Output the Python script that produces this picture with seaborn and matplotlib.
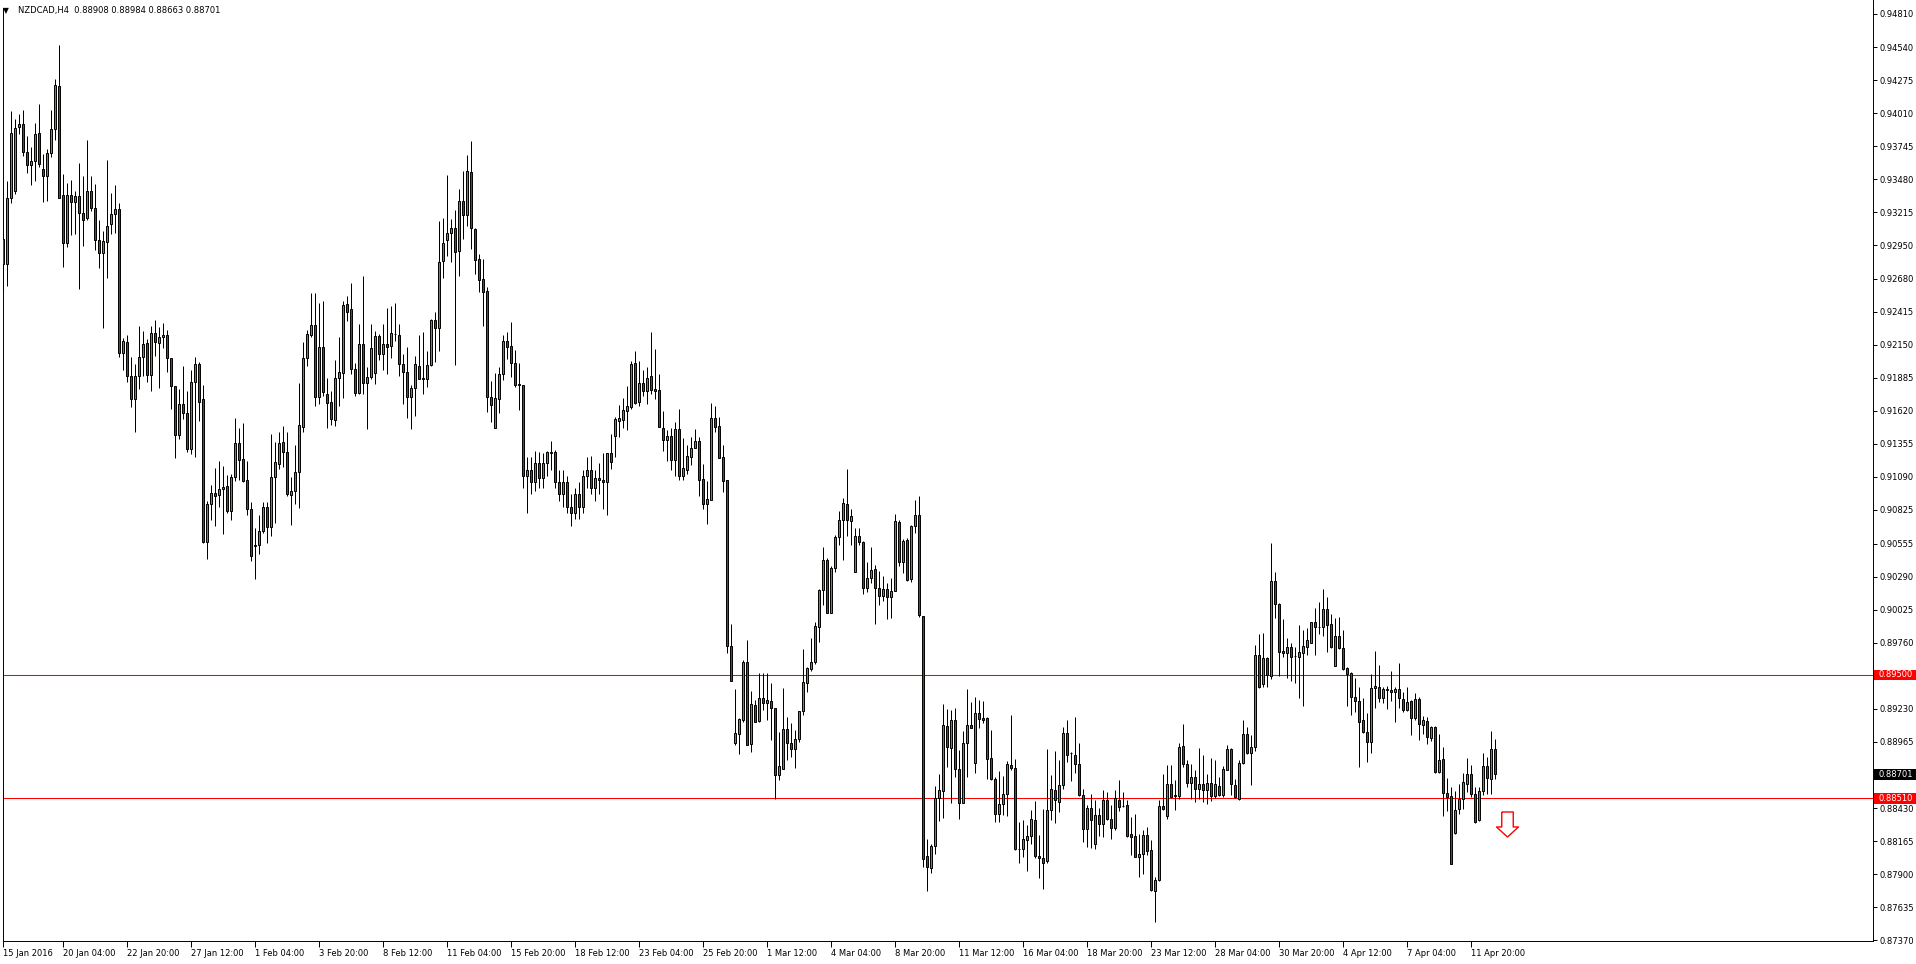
import numpy as np
import pandas as pd
import matplotlib
import matplotlib.pyplot as plt
from matplotlib.path import Path
from matplotlib.patches import Rectangle
import seaborn as sns

sns.set_theme(style="white")
plt.rcParams["font.family"] = ["DejaVu Sans"]

# NZDCAD H4 candles (bar 0 = left edge)
opens = [
    0.93002, 0.92798, 0.93329, 0.93383, 0.93898, 0.93925, 0.93699, 0.93595, 0.93624, 0.93852,
    0.93562, 0.93506, 0.93691, 0.93884, 0.94231, 0.93353, 0.92967, 0.93353, 0.93297, 0.93345,
    0.93208, 0.93173, 0.93385, 0.93249, 0.92996, 0.92886, 0.92980, 0.93120, 0.93200, 0.93241,
    0.92084, 0.92175, 0.91900, 0.91720, 0.91900, 0.92050, 0.92165, 0.91910, 0.92245, 0.92162,
    0.92210, 0.92229, 0.92049, 0.91824, 0.91430, 0.91679, 0.91607, 0.91314, 0.91856, 0.92001,
    0.91714, 0.90568, 0.90872, 0.90963, 0.90944, 0.90992, 0.91019, 0.90813, 0.91092, 0.91365,
    0.91237, 0.91062, 0.90829, 0.90534, 0.90542, 0.90657, 0.90850, 0.90687, 0.91089, 0.91196,
    0.91373, 0.91293, 0.90947, 0.90976, 0.91129, 0.91494, 0.92049, 0.92234, 0.92307, 0.91735,
    0.92130, 0.91760, 0.91695, 0.91550, 0.91888, 0.91928, 0.92476, 0.92436, 0.91961, 0.91767,
    0.92154, 0.91848, 0.91896, 0.91928, 0.92218, 0.92081, 0.92154, 0.92138, 0.92242, 0.92234,
    0.92001, 0.91936, 0.91735, 0.91808, 0.91985, 0.91888, 0.91880, 0.91987, 0.92347, 0.92288,
    0.92827, 0.92996, 0.93047, 0.93087, 0.92908, 0.93307, 0.93197, 0.93538, 0.93082, 0.92838,
    0.92677, 0.92580, 0.91735, 0.91486, 0.91719, 0.91920, 0.92178, 0.92138, 0.92009, 0.91840,
    0.91832, 0.91100, 0.91150, 0.91050, 0.91200, 0.91080, 0.91200, 0.91290, 0.91290, 0.91050,
    0.90950, 0.91050, 0.90850, 0.90800, 0.90950, 0.90850, 0.91100, 0.91150, 0.91000, 0.91080,
    0.91067, 0.91049, 0.91279, 0.91419, 0.91540, 0.91548, 0.91620, 0.91652, 0.92004, 0.91695,
    0.91848, 0.91781, 0.91899, 0.91795, 0.91787, 0.91481, 0.91389, 0.91416, 0.91226, 0.91473,
    0.91097, 0.91145, 0.91253, 0.91325, 0.91381, 0.91070, 0.90872, 0.90906, 0.91561, 0.91497,
    0.91247, 0.91062, 0.89731, 0.88956, 0.89029, 0.89136, 0.89608, 0.88943, 0.89259, 0.89133,
    0.89313, 0.89272, 0.89291, 0.89232, 0.88693, 0.88749, 0.89063, 0.88956, 0.88902, 0.88983,
    0.89211, 0.89433, 0.89551, 0.89602, 0.89884, 0.90179, 0.90426, 0.89997, 0.90359, 0.90609,
    0.90745, 0.90874, 0.90735, 0.90327, 0.90619, 0.90568, 0.90198, 0.90281, 0.90351, 0.90198,
    0.90134, 0.90193, 0.90126, 0.90171, 0.90732, 0.90407, 0.90587, 0.90268, 0.90700, 0.90788,
    0.89975, 0.88049, 0.87952, 0.88124, 0.88516, 0.88569, 0.89090, 0.88910, 0.89138, 0.88747,
    0.88476, 0.88950, 0.89098, 0.88795, 0.89192, 0.89154, 0.89154, 0.88830, 0.88661, 0.88387,
    0.88467, 0.88548, 0.88781, 0.88757, 0.88100, 0.88105, 0.88178, 0.88210, 0.88339, 0.88049,
    0.88030, 0.88006, 0.88419, 0.88580, 0.88481, 0.88620, 0.89031, 0.88870, 0.88856, 0.88789,
    0.88534, 0.88266, 0.88435, 0.88140, 0.88379, 0.88306, 0.88494, 0.88347, 0.88274, 0.88494,
    0.88446, 0.88459, 0.88221, 0.88204, 0.88038, 0.88059, 0.88218, 0.88092, 0.87764, 0.87850,
    0.88446, 0.88365, 0.88628, 0.88540, 0.88526, 0.88929, 0.88789, 0.88634, 0.88677, 0.88588,
    0.88628, 0.88574, 0.88636, 0.88526, 0.88612, 0.88534, 0.88735, 0.88902, 0.88620, 0.88507,
    0.88797, 0.89025, 0.88875, 0.88923, 0.89658, 0.89425, 0.89637, 0.89495, 0.90257, 0.90071,
    0.89693, 0.89674, 0.89723, 0.89653, 0.89648, 0.89680, 0.89728, 0.89760, 0.89924, 0.89889,
    0.89883, 0.90028, 0.89908, 0.89575, 0.89814, 0.89717, 0.89554, 0.89513, 0.89321, 0.89294,
    0.89135, 0.89044, 0.88964, 0.89393, 0.89406, 0.89313, 0.89390, 0.89380, 0.89361, 0.89388,
    0.89307, 0.89219, 0.89294, 0.89151, 0.89310, 0.89098, 0.89130, 0.88991, 0.89085, 0.88722,
    0.88824, 0.88551, 0.88526, 0.88234, 0.88425, 0.88505, 0.88623, 0.88704, 0.88548, 0.88339,
    0.88572, 0.88768, 0.88666, 0.88908,
]
highs = [
    0.93015, 0.93466, 0.94029, 0.93968, 0.94005, 0.94040, 0.93825, 0.93742, 0.93935, 0.94088,
    0.93681, 0.93726, 0.94040, 0.94282, 0.94555, 0.93525, 0.93452, 0.93471, 0.93383, 0.93611,
    0.93509, 0.93799, 0.93509, 0.93444, 0.93155, 0.93066, 0.93638, 0.93372, 0.93436, 0.93291,
    0.92205, 0.92229, 0.92050, 0.92000, 0.92304, 0.92264, 0.92200, 0.92299, 0.92350, 0.92296,
    0.92326, 0.92269, 0.92049, 0.91824, 0.91800, 0.91980, 0.91784, 0.91945, 0.92052, 0.92015,
    0.91827, 0.90901, 0.91022, 0.91159, 0.91220, 0.91180, 0.91102, 0.91113, 0.91561, 0.91481,
    0.91521, 0.91215, 0.90893, 0.90681, 0.90788, 0.90888, 0.90888, 0.91432, 0.91373, 0.91448,
    0.91499, 0.91451, 0.91089, 0.91347, 0.91843, 0.92176, 0.92269, 0.92567, 0.92567, 0.92486,
    0.92500, 0.91888, 0.91778, 0.92028, 0.92210, 0.92500, 0.92540, 0.92647, 0.92009, 0.92317,
    0.92704, 0.91971, 0.92317, 0.92261, 0.92237, 0.92317, 0.92446, 0.92465, 0.92486, 0.92317,
    0.92076, 0.92130, 0.91832, 0.92065, 0.92229, 0.92253, 0.92100, 0.92360, 0.92417, 0.93144,
    0.93171, 0.93517, 0.93165, 0.93235, 0.93404, 0.93544, 0.93678, 0.93790, 0.93087, 0.92881,
    0.92838, 0.92613, 0.91859, 0.91923, 0.91971, 0.92229, 0.92253, 0.92336, 0.92106, 0.92009,
    0.91832, 0.91250, 0.91250, 0.91295, 0.91290, 0.91280, 0.91300, 0.91376, 0.91303, 0.91150,
    0.91150, 0.91100, 0.90950, 0.91000, 0.91050, 0.91150, 0.91250, 0.91260, 0.91150, 0.91200,
    0.91279, 0.91279, 0.91438, 0.91572, 0.91666, 0.91722, 0.91824, 0.92020, 0.92100, 0.92020,
    0.91948, 0.91977, 0.92253, 0.92117, 0.91915, 0.91617, 0.91465, 0.91481, 0.91529, 0.91634,
    0.91405, 0.91344, 0.91408, 0.91473, 0.91413, 0.91194, 0.91057, 0.91687, 0.91660, 0.91569,
    0.91349, 0.91062, 0.89911, 0.89388, 0.89157, 0.89621, 0.89782, 0.89372, 0.89299, 0.89514,
    0.89514, 0.89514, 0.89433, 0.89232, 0.89044, 0.89393, 0.89160, 0.89111, 0.89058, 0.89213,
    0.89710, 0.89567, 0.89801, 0.89922, 0.90190, 0.90528, 0.90440, 0.90372, 0.90627, 0.90815,
    0.90922, 0.91156, 0.90829, 0.90681, 0.90681, 0.90574, 0.90407, 0.90528, 0.90386, 0.90335,
    0.90292, 0.90238, 0.90279, 0.90794, 0.90748, 0.90590, 0.90600, 0.90708, 0.90909, 0.90936,
    0.89975, 0.88186, 0.88146, 0.88607, 0.88704, 0.89267, 0.89224, 0.89219, 0.89237, 0.88897,
    0.89052, 0.89385, 0.89286, 0.89321, 0.89299, 0.89291, 0.89165, 0.89058, 0.88677, 0.88728,
    0.88688, 0.88811, 0.89178, 0.88822, 0.88320, 0.88339, 0.88293, 0.88419, 0.88486, 0.88213,
    0.88427, 0.88902, 0.88700, 0.88888, 0.88816, 0.89084, 0.89138, 0.88883, 0.89165, 0.88956,
    0.88588, 0.88454, 0.88542, 0.88494, 0.88435, 0.88575, 0.88561, 0.88454, 0.88575, 0.88660,
    0.88558, 0.88494, 0.88360, 0.88381, 0.88221, 0.88253, 0.88279, 0.88172, 0.87877, 0.88494,
    0.88703, 0.88776, 0.88776, 0.88655, 0.88950, 0.89106, 0.88816, 0.88784, 0.88736, 0.88910,
    0.88856, 0.88708, 0.88837, 0.88821, 0.88682, 0.88767, 0.88936, 0.88910, 0.88668, 0.88816,
    0.89138, 0.89084, 0.89017, 0.89741, 0.89830, 0.89835, 0.89648, 0.90560, 0.90324, 0.90082,
    0.89948, 0.89795, 0.89755, 0.89728, 0.89902, 0.89862, 0.89875, 0.89929, 0.90036, 0.90090,
    0.90189, 0.90125, 0.89988, 0.89961, 0.89964, 0.89862, 0.89567, 0.89521, 0.89474, 0.89401,
    0.89313, 0.89192, 0.89506, 0.89694, 0.89581, 0.89406, 0.89412, 0.89533, 0.89406, 0.89597,
    0.89366, 0.89406, 0.89299, 0.89353, 0.89321, 0.89170, 0.89165, 0.89093, 0.89093, 0.89025,
    0.88918, 0.88669, 0.88602, 0.88569, 0.88623, 0.88709, 0.88830, 0.88776, 0.88602, 0.88602,
    0.88870, 0.88843, 0.89050, 0.88984,
]
lows = [
    0.92572, 0.92621, 0.93289, 0.93359, 0.93844, 0.93670, 0.93528, 0.93434, 0.93463, 0.93576,
    0.93302, 0.93310, 0.93659, 0.93793, 0.93329, 0.92779, 0.92940, 0.93037, 0.93045, 0.92602,
    0.92948, 0.93157, 0.93227, 0.92916, 0.92766, 0.92285, 0.92690, 0.93045, 0.93050, 0.92050,
    0.91950, 0.91850, 0.91650, 0.91450, 0.91800, 0.91900, 0.91850, 0.91781, 0.92063, 0.91803,
    0.92127, 0.91934, 0.91634, 0.91242, 0.91395, 0.91556, 0.91290, 0.91274, 0.91253, 0.91540,
    0.90558, 0.90432, 0.90743, 0.90695, 0.90845, 0.90630, 0.90802, 0.90743, 0.91057, 0.91067,
    0.91049, 0.90788, 0.90413, 0.90271, 0.90475, 0.90641, 0.90558, 0.90614, 0.90719, 0.91151,
    0.91172, 0.90936, 0.90703, 0.90877, 0.90842, 0.91454, 0.91982, 0.92216, 0.91660, 0.91674,
    0.91741, 0.91486, 0.91507, 0.91499, 0.91660, 0.91724, 0.92344, 0.91920, 0.91741, 0.91754,
    0.91754, 0.91478, 0.91875, 0.91835, 0.92028, 0.91950, 0.91915, 0.92047, 0.92183, 0.91902,
    0.91674, 0.91561, 0.91472, 0.91580, 0.91875, 0.91754, 0.91813, 0.91982, 0.92014, 0.92103,
    0.92690, 0.92862, 0.92819, 0.91990, 0.92706, 0.93002, 0.93109, 0.92921, 0.92720, 0.92578,
    0.92304, 0.91612, 0.91531, 0.91486, 0.91604, 0.91869, 0.92041, 0.91894, 0.91813, 0.91628,
    0.91000, 0.90800, 0.90950, 0.90980, 0.91000, 0.91000, 0.91100, 0.91150, 0.91000, 0.90900,
    0.90850, 0.90800, 0.90700, 0.90750, 0.90750, 0.90800, 0.91000, 0.90950, 0.90900, 0.90950,
    0.90829, 0.90788, 0.91151, 0.91250, 0.91411, 0.91486, 0.91467, 0.91634, 0.91674, 0.91660,
    0.91741, 0.91677, 0.91757, 0.91714, 0.91491, 0.91298, 0.91218, 0.91145, 0.91097, 0.91065,
    0.91065, 0.91113, 0.91188, 0.91322, 0.90936, 0.90831, 0.90713, 0.90906, 0.91451, 0.91242,
    0.90968, 0.89675, 0.89450, 0.88940, 0.88862, 0.89125, 0.88935, 0.88884, 0.89120, 0.89120,
    0.89219, 0.89138, 0.88977, 0.88508, 0.88655, 0.88749, 0.88816, 0.88843, 0.88757, 0.88964,
    0.89178, 0.89361, 0.89533, 0.89589, 0.89763, 0.90064, 0.89997, 0.89997, 0.90324, 0.90547,
    0.90421, 0.90614, 0.90547, 0.90327, 0.90547, 0.90150, 0.90163, 0.90238, 0.89908, 0.90064,
    0.90091, 0.89951, 0.89957, 0.90171, 0.90372, 0.90319, 0.90252, 0.90244, 0.90641, 0.89965,
    0.87958, 0.87765, 0.87909, 0.88065, 0.88328, 0.88355, 0.88763, 0.88473, 0.88677, 0.88341,
    0.88473, 0.88682, 0.89071, 0.88714, 0.89071, 0.89111, 0.88661, 0.88655, 0.88320, 0.88320,
    0.88374, 0.88366, 0.88736, 0.88092, 0.87990, 0.88038, 0.87925, 0.88146, 0.88030, 0.87872,
    0.87783, 0.87990, 0.88333, 0.88312, 0.88400, 0.88588, 0.88803, 0.88650, 0.88714, 0.88526,
    0.88159, 0.88118, 0.88113, 0.88105, 0.88204, 0.88199, 0.88333, 0.88186, 0.88253, 0.88408,
    0.88440, 0.88199, 0.88051, 0.88038, 0.87877, 0.87898, 0.88051, 0.87764, 0.87515, 0.87845,
    0.88414, 0.88341, 0.88521, 0.88414, 0.88508, 0.88762, 0.88600, 0.88508, 0.88481, 0.88508,
    0.88480, 0.88467, 0.88488, 0.88515, 0.88529, 0.88521, 0.88735, 0.88534, 0.88513, 0.88499,
    0.88789, 0.88869, 0.88615, 0.88891, 0.89393, 0.89406, 0.89406, 0.89465, 0.89956, 0.89495,
    0.89648, 0.89478, 0.89454, 0.89438, 0.89312, 0.89253, 0.89661, 0.89755, 0.89661, 0.89830,
    0.89816, 0.89682, 0.89715, 0.89575, 0.89706, 0.89540, 0.89253, 0.89180, 0.89205, 0.88762,
    0.89031, 0.88803, 0.88875, 0.89237, 0.89286, 0.89272, 0.89227, 0.89294, 0.89125, 0.89232,
    0.89205, 0.89213, 0.89017, 0.89138, 0.88977, 0.89025, 0.88945, 0.88972, 0.88714, 0.88709,
    0.88368, 0.88408, 0.87979, 0.88221, 0.88387, 0.88425, 0.88561, 0.88521, 0.88312, 0.88328,
    0.88534, 0.88543, 0.88543, 0.88663,
]
closes = [
    0.92800, 0.93332, 0.93852, 0.93892, 0.93925, 0.93697, 0.93595, 0.93627, 0.93844, 0.93603,
    0.93503, 0.93691, 0.93884, 0.94239, 0.93329, 0.92967, 0.93353, 0.93297, 0.93345, 0.93208,
    0.93152, 0.93385, 0.93249, 0.92991, 0.92886, 0.92983, 0.93104, 0.93200, 0.93241, 0.92084,
    0.92180, 0.91900, 0.91720, 0.91900, 0.92050, 0.92154, 0.91910, 0.92245, 0.92170, 0.92210,
    0.92229, 0.92049, 0.91824, 0.91430, 0.91679, 0.91604, 0.91314, 0.91856, 0.92001, 0.91695,
    0.90568, 0.90877, 0.90963, 0.90936, 0.90995, 0.91011, 0.90813, 0.91092, 0.91365, 0.91226,
    0.91057, 0.90831, 0.90453, 0.90544, 0.90660, 0.90850, 0.90687, 0.91092, 0.91207, 0.91365,
    0.91290, 0.90952, 0.90979, 0.91127, 0.91505, 0.92049, 0.92237, 0.92307, 0.91735, 0.92130,
    0.91773, 0.91687, 0.91558, 0.91888, 0.91936, 0.92468, 0.92417, 0.91961, 0.91767, 0.92154,
    0.91848, 0.91896, 0.92122, 0.92218, 0.92081, 0.92154, 0.92135, 0.92250, 0.92242, 0.91998,
    0.91934, 0.91735, 0.91808, 0.92001, 0.91880, 0.91880, 0.91993, 0.92347, 0.92288, 0.92814,
    0.92967, 0.93047, 0.93087, 0.92900, 0.93307, 0.93197, 0.93546, 0.93087, 0.92835, 0.92674,
    0.92578, 0.91733, 0.91671, 0.91727, 0.91920, 0.92178, 0.92135, 0.92009, 0.91829, 0.91829,
    0.91100, 0.91150, 0.91050, 0.91200, 0.91080, 0.91200, 0.91290, 0.91285, 0.91050, 0.90950,
    0.91050, 0.90850, 0.90800, 0.90950, 0.90850, 0.91100, 0.91150, 0.91000, 0.91080, 0.91065,
    0.91051, 0.91279, 0.91210, 0.91553, 0.91561, 0.91626, 0.91658, 0.91996, 0.91682, 0.91848,
    0.91781, 0.91888, 0.91792, 0.91784, 0.91491, 0.91389, 0.91416, 0.91226, 0.91473, 0.91097,
    0.91164, 0.91255, 0.91325, 0.91381, 0.91065, 0.90872, 0.90917, 0.91561, 0.91491, 0.91242,
    0.91057, 0.89729, 0.89450, 0.89031, 0.89144, 0.89608, 0.88935, 0.89265, 0.89125, 0.89313,
    0.89272, 0.89299, 0.89232, 0.88693, 0.88768, 0.89063, 0.88956, 0.88908, 0.88983, 0.89211,
    0.89441, 0.89554, 0.89605, 0.89895, 0.90182, 0.90426, 0.89997, 0.90359, 0.90609, 0.90748,
    0.90882, 0.90745, 0.90780, 0.90617, 0.90566, 0.90198, 0.90281, 0.90346, 0.90198, 0.90136,
    0.90193, 0.90126, 0.90177, 0.90740, 0.90407, 0.90579, 0.90265, 0.90700, 0.90788, 0.89978,
    0.88022, 0.87958, 0.88124, 0.88516, 0.88575, 0.89098, 0.88924, 0.89138, 0.88747, 0.88476,
    0.88950, 0.89098, 0.89077, 0.89192, 0.89144, 0.89138, 0.88827, 0.88661, 0.88387, 0.88467,
    0.88548, 0.88784, 0.88757, 0.88105, 0.88100, 0.88180, 0.88210, 0.88347, 0.88046, 0.88030,
    0.87993, 0.88419, 0.88588, 0.88494, 0.88620, 0.89031, 0.88856, 0.88870, 0.88789, 0.88534,
    0.88266, 0.88435, 0.88338, 0.88379, 0.88306, 0.88494, 0.88347, 0.88274, 0.88513, 0.88440,
    0.88446, 0.88207, 0.88199, 0.88038, 0.88059, 0.88218, 0.88086, 0.87770, 0.87856, 0.88451,
    0.88424, 0.88628, 0.88521, 0.88526, 0.88923, 0.88789, 0.88634, 0.88682, 0.88588, 0.88628,
    0.88574, 0.88636, 0.88526, 0.88623, 0.88539, 0.88749, 0.88902, 0.88628, 0.88521, 0.88797,
    0.89025, 0.88875, 0.88918, 0.89658, 0.89406, 0.89637, 0.89500, 0.90257, 0.90071, 0.89688,
    0.89674, 0.89723, 0.89648, 0.89653, 0.89682, 0.89733, 0.89782, 0.89924, 0.89889, 0.89889,
    0.90028, 0.89902, 0.89728, 0.89814, 0.89715, 0.89546, 0.89508, 0.89321, 0.89294, 0.89125,
    0.89044, 0.88964, 0.89393, 0.89412, 0.89318, 0.89390, 0.89377, 0.89361, 0.89388, 0.89313,
    0.89219, 0.89286, 0.89151, 0.89307, 0.89106, 0.89138, 0.88999, 0.89085, 0.88722, 0.88816,
    0.88556, 0.88521, 0.87984, 0.88419, 0.88505, 0.88639, 0.88704, 0.88548, 0.88320, 0.88572,
    0.88768, 0.88674, 0.88902, 0.88701,
]

price_ticks = [0.94810, 0.94540, 0.94275, 0.94010, 0.93745, 0.93480, 0.93215, 0.92950,
               0.92680, 0.92415, 0.92150, 0.91885, 0.91620, 0.91355, 0.91090, 0.90825,
               0.90555, 0.90290, 0.90025, 0.89760, 0.89230, 0.88965, 0.88430, 0.88165,
               0.87900, 0.87635, 0.87370]

date_bars = [0, 15, 31, 47, 63, 79, 95, 111, 127, 143, 159, 175, 191, 207, 223,
             239, 255, 271, 287, 303, 319, 335, 351, 367]
date_labels = ["15 Jan 2016", "20 Jan 04:00", "22 Jan 20:00", "27 Jan 12:00",
               "1 Feb 04:00", "3 Feb 20:00", "8 Feb 12:00", "11 Feb 04:00",
               "15 Feb 20:00", "18 Feb 12:00", "23 Feb 04:00", "25 Feb 20:00",
               "1 Mar 12:00", "4 Mar 04:00", "8 Mar 20:00", "11 Mar 12:00",
               "16 Mar 04:00", "18 Mar 20:00", "23 Mar 12:00", "28 Mar 04:00",
               "30 Mar 20:00", "4 Apr 12:00", "7 Apr 04:00", "11 Apr 20:00"]

levels = [0.89500, 0.88510]
last_price = 0.88701
arrow_bar, arrow_price = 376, 0.88300

bull = "#32b032"
bear = "#e01010"

df = pd.DataFrame({"open": opens, "high": highs, "low": lows, "close": closes})
df["bar"] = np.arange(len(df))
up = df["close"] >= df["open"]

W, H = 1916, 964
fig = plt.figure(figsize=(W / 100, H / 100), dpi=100)
fig.patch.set_facecolor("white")
ax = fig.add_axes([2.7 / W, 23 / H, (1873 - 2.7) / W, 941 / H])
ax.set_facecolor("white")

ax.set_xlim(-0.16, 467.4)
ax.set_ylim(0.87364, 0.94920)

# wicks then bodies
ax.vlines(df["bar"], df["low"], df["high"], color="black", linewidth=0.72, zorder=2)
for mask, col in [(up, bull), (~up, bear)]:
    d = df[mask]
    ax.bar(d["bar"], (d["close"] - d["open"]).abs(), bottom=d[["open", "close"]].min(axis=1),
           width=0.5, color=col, edgecolor="black", linewidth=0.7, zorder=3)

for lv in levels:
    ax.axhline(lv, color="#ff0000", linewidth=0.75, zorder=1)

# sell arrow
arrow = Path([(-0.23, 0.5), (0.23, 0.5), (0.23, -0.1), (0.44, -0.1), (0.0, -0.5),
              (-0.44, -0.1), (-0.23, -0.1), (-0.23, 0.5)])
ax.plot([arrow_bar], [arrow_price], marker=arrow, markersize=18, markerfacecolor="white",
        markeredgecolor="#ff0000", markeredgewidth=1.0, linestyle="none", zorder=4)

sns.despine(ax=ax, top=True, right=False, left=False, bottom=False)
for side in ["left", "right", "bottom"]:
    ax.spines[side].set_color("black")
    ax.spines[side].set_linewidth(0.7)
ax.spines["left"].set_bounds(0.87364, 0.94856)

ax.yaxis.tick_right()
ax.set_yticks(price_ticks)
ax.set_yticklabels([f"{v:.5f}" for v in price_ticks])
ax.set_xticks(date_bars)
ax.set_xticklabels(date_labels, ha="left")
ax.tick_params(axis="y", right=True, left=False, length=3, width=0.7, pad=2,
               labelsize=6, colors="black")
ax.tick_params(axis="x", bottom=True, length=4, width=0.7, pad=2, labelsize=6,
               colors="black")
ax.grid(False)

# price boxes on the right scale
ytr = ax.get_yaxis_transform()
for val, col in [(levels[0], "#ff0000"), (levels[1], "#ff0000"), (last_price, "black")]:
    ax.add_patch(Rectangle((1.0008, val - 0.00042), 0.0225, 0.00084, transform=ytr,
                           facecolor=col, edgecolor="none", clip_on=False, zorder=5))
    ax.text(1.0032, val, f"{val:.5f}", transform=ytr, ha="left", va="center",
            fontsize=6, color="white", zorder=6, clip_on=False)

fig.text(2.5 / W, 1 - 11 / H, "\u25bc", fontsize=5.5, va="center", ha="left", color="black")
fig.text(18 / W, 1 - 11 / H, "NZDCAD,H4  0.88908 0.88984 0.88663 0.88701",
         fontsize=6, va="center", ha="left", color="black")

fig.savefig("out.png", dpi=100)
